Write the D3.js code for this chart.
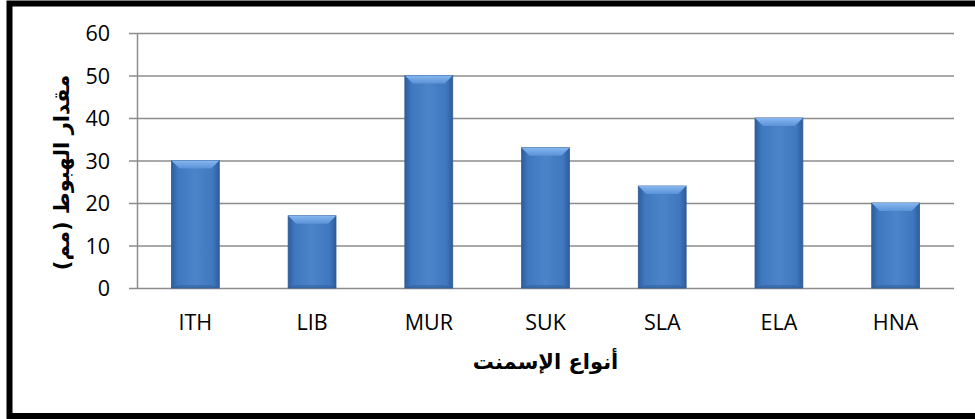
<!DOCTYPE html>
<html>
<head>
<meta charset="utf-8">
<script src="https://cdn.jsdelivr.net/npm/d3@7"></script>
<style>
  body { margin: 0; background: #fff; }
  svg { display: block; }
  .tick-label { font-family: "Open Sans", sans-serif; font-size: 21.5px; fill: #000; }
  .axis-title { font-family: "DejaVu Sans", sans-serif; font-weight: bold; font-size: 21px; fill: #000; }
</style>
</head>
<body>
<div id="chart"></div>
<script>
// cement types and settlement (mm)
var categories = ["ITH", "LIB", "MUR", "SUK", "SLA", "ELA", "HNA"];
var settlement = [30, 17, 50, 33, 24, 40, 20];
var yTicks = [0, 10, 20, 30, 40, 50, 60];
var xTitle = "أنواع الإسمنت";
var yTitle = "مقدار الهبوط (مم)";

var W = 975, H = 419;
var plot = {left: 137, right: 954, top: 33, bottom: 288};

var svg = d3.select("#chart").append("svg")
    .attr("width", W).attr("height", H);

// gradients for the bevelled office-style bars
var defs = svg.append("defs");
var body = defs.append("linearGradient").attr("id", "barBody")
    .attr("x1", 0).attr("x2", 1).attr("y1", 0).attr("y2", 0);
body.append("stop").attr("offset", "0%").attr("stop-color", "#2d5d9c");
body.append("stop").attr("offset", "14%").attr("stop-color", "#4078bf");
body.append("stop").attr("offset", "50%").attr("stop-color", "#4c84c9");
body.append("stop").attr("offset", "86%").attr("stop-color", "#4078bf");
body.append("stop").attr("offset", "100%").attr("stop-color", "#2d5d9c");

var cap = defs.append("linearGradient").attr("id", "barCap")
    .attr("x1", 0).attr("x2", 0).attr("y1", 0).attr("y2", 1);
cap.append("stop").attr("offset", "0%").attr("stop-color", "#86b7ef");
cap.append("stop").attr("offset", "100%").attr("stop-color", "#5a93d8");

var x = d3.scaleBand()
    .domain(categories)
    .range([plot.left, plot.right])
    .paddingInner(0.59)
    .paddingOuter(0.295);

var y = d3.scaleLinear()
    .domain([0, 60])
    .range([plot.bottom, plot.top]);

// frame
svg.append("rect")
    .attr("x", 9.5).attr("y", 3.5)
    .attr("width", W + 20).attr("height", 412.5)
    .attr("fill", "none")
    .attr("stroke", "#000")
    .attr("stroke-width", 6);

// y axis with gridlines
var yAxis = d3.axisLeft(y)
    .tickValues(yTicks)
    .tickSize(-(plot.right - plot.left))
    .tickSizeOuter(0)
    .tickPadding(27);

var gy = svg.append("g")
    .attr("transform", "translate(" + plot.left + ",0)")
    .call(yAxis);
gy.select(".domain").attr("stroke", "#8c8c8c").attr("stroke-width", 1.5);
gy.selectAll(".tick line")
    .attr("x1", -8)
    .attr("stroke", "#8c8c8c")
    .attr("stroke-width", 1.5);
gy.selectAll(".tick text")
    .attr("class", "tick-label")
    .attr("dy", "0.36em");

// x axis labels
var xAxis = d3.axisBottom(x).tickSize(0).tickPadding(42);
var gx = svg.append("g")
    .attr("transform", "translate(0," + plot.bottom + ")")
    .call(xAxis);
gx.select(".domain").remove();
gx.selectAll(".tick text")
    .attr("class", "tick-label")
    .attr("dy", "0");

// bars
var bars = svg.append("g").selectAll("g")
    .data(categories)
    .join("g");

var bev = 8;
bars.append("rect")
    .attr("x", function(d) { return x(d); })
    .attr("y", function(d, i) { return y(settlement[i]); })
    .attr("width", x.bandwidth())
    .attr("height", function(d, i) { return y(0) - y(settlement[i]); })
    .attr("fill", "url(#barBody)")
    .attr("stroke", "#2f5b94")
    .attr("stroke-width", 0.8);

// top bevel
bars.append("path")
    .attr("d", function(d, i) {
        var x0 = x(d), x1 = x(d) + x.bandwidth(), t = y(settlement[i]);
        return "M" + x0 + "," + t + "L" + x1 + "," + t +
            "L" + (x1 - bev) + "," + (t + bev) + "L" + (x0 + bev) + "," + (t + bev) + "Z";
    })
    .attr("fill", "url(#barCap)");

// bottom bevel, subtle
bars.append("path")
    .attr("d", function(d, i) {
        var x0 = x(d), x1 = x(d) + x.bandwidth(), b = y(0);
        return "M" + x0 + "," + b + "L" + x1 + "," + b +
            "L" + (x1 - bev) + "," + (b - 3) + "L" + (x0 + bev) + "," + (b - 3) + "Z";
    })
    .attr("fill", "#2f5d99")
    .attr("opacity", 0.5);

// axis titles
svg.append("text")
    .attr("class", "axis-title")
    .attr("x", (plot.left + plot.right) / 2)
    .attr("y", 369)
    .attr("text-anchor", "middle")
    .attr("direction", "rtl")
    .text(xTitle);

svg.append("text")
    .attr("class", "axis-title")
    .attr("transform", "translate(69," + ((plot.top + plot.bottom) / 2 + 12) + ") rotate(-90)")
    .attr("text-anchor", "middle")
    .attr("direction", "rtl")
    .text(yTitle);
</script>
</body>
</html>
